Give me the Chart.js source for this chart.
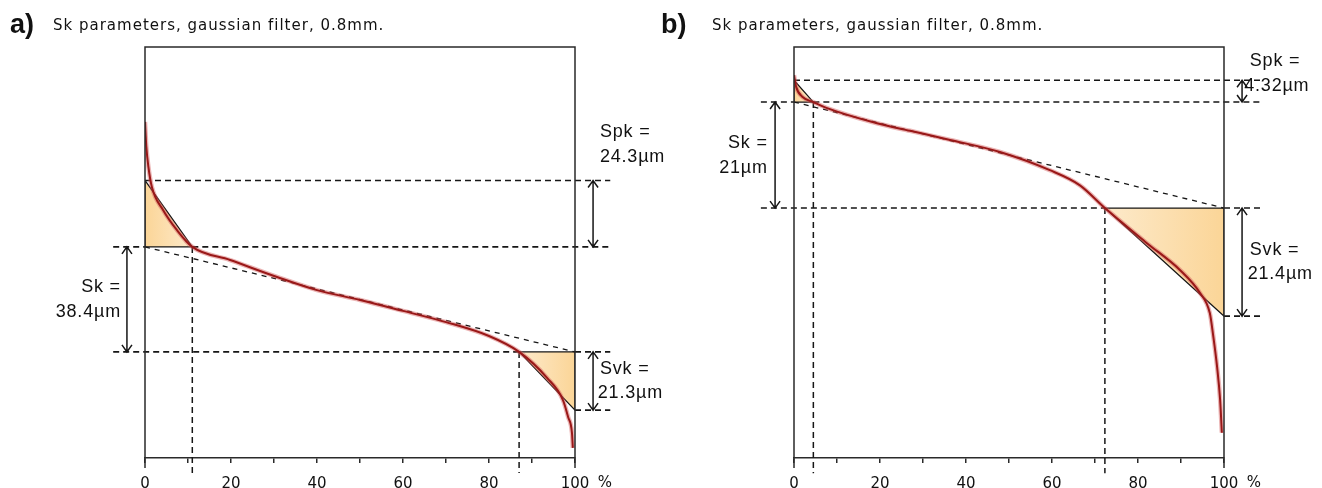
<!DOCTYPE html>
<html>
<head>
<meta charset="utf-8">
<script src="https://cdn.jsdelivr.net/npm/chart.js@4.4.1/dist/chart.umd.min.js"></script>
<style>
    html, body { margin: 0; padding: 0; background: #fff; }
    body { width: 1322px; height: 488px; position: relative; overflow: hidden; }
    canvas { position: absolute; top: 0; }
    #chartA { left: 0; }
    #chartB { left: 640px; }
</style>
</head>
<body>
<canvas id="chartA" width="680" height="488"></canvas>
<canvas id="chartB" width="682" height="488"></canvas>
<script>
// Curvas de Abbott-Firestone: taxa de material (%) x altura (µm)
const titleText = 'Sk parameters, gaussian filter, 0.8mm.';

// --- painel a) ---
const ratioA  = [0, 0.3, 0.8, 1.6, 4.2, 7.4, 11, 19.8, 30.7, 40, 50, 60, 70, 80, 87, 93.5, 97.2, 98.4, 99.3, 99.5];
const heightA = [122.9, 114, 106.4, 99.1, 90.7, 83.4, 77.2, 72.4, 66.2, 61.4, 57.8, 53.8, 49.7, 44.6, 38.8, 29.3, 21.2, 15.0, 9.1, 3.7];
const coreA   = [77.2, 38.8];   // limites do núcleo (Sk = 38.4 µm)
const peakA   = 24.3;           // Spk
const valleyA = 21.3;           // Svk
const mrA     = [11, 87];       // Mr1, Mr2
const yMaxA   = 150.3;
const textA   = ['Sk =', '38.4µm', 'Spk =', '24.3µm', 'Svk =', '21.3µm'];

// --- painel b) ---
const ratioB  = [0, 0.5, 2, 4.5, 7.7, 19.3, 27, 36.3, 47.9, 59.5, 66.5, 72.3, 82, 89.8, 94.4, 96.7, 97.4, 98.4, 99.1, 99.5];
const heightB = [75.8, 73.5, 71.5, 70.5, 69.3, 66.3, 64.8, 63.0, 60.6, 57.0, 54.0, 49.5, 42.6, 37.2, 32.7, 28.7, 24.8, 18.0, 11.5, 5.0];
const coreB   = [70.5, 49.5];   // Sk = 21 µm
const peakB   = 4.32;
const valleyB = 21.4;
const mrB     = [4.5, 72.3];
const yMaxB   = 81.4;
const textB   = ['Sk =', '21µm', 'Spk =', '4.32µm', 'Svk =', '21.4µm'];

const INK = '#161616';

const panels = [
    {
        id: 'chartA', tag: 'a)', tagX: 10, titleX: 53, padLeft: 145, padRight: 105,
        ratio: ratioA, height: heightA, core: coreA, peak: peakA, valley: valleyA, mr: mrA, yMax: yMaxA, text: textA,
        armX: [-4.2, 104.2], guideX: [-7.4, 108.2], below: -5.5,
        skTextX: -5.6, spkTextX: [105.8, 105.8], spkDy: [-48, -23], svkTextX: [105.8, 105.3], pctX: 105.3
    },
    {
        id: 'chartB', tag: 'b)', tagX: 21, titleX: 72, padLeft: 154, padRight: 98,
        ratio: ratioB, height: heightB, core: coreB, peak: peakB, valley: valleyB, mr: mrB, yMax: yMaxB, text: textB,
        armX: [-4.4, 104.2], guideX: [-7.7, 108.4], below: -3.0,
        skTextX: -6.1, spkTextX: [106, 104.7], spkDy: [-19, 6], svkTextX: [106, 105.5], pctX: 105.3
    }
];

// gradiente pêssego dos triângulos (mais forte junto ao eixo)
function peachFill(fromPct, toPct) {
    return (context) => {
        const chart = context.chart;
        const xs = chart.scales.x;
        if (!chart.chartArea || !xs) return '#fde2b4';
        const g = chart.ctx.createLinearGradient(xs.getPixelForValue(fromPct), 0, xs.getPixelForValue(toPct), 0);
        g.addColorStop(0, '#fbd597');
        g.addColorStop(1, '#fdeacb');
        return g;
    };
}

function dashed(points, width) {
    return {
        data: points, showLine: true, pointRadius: 0, borderColor: INK,
        borderWidth: width || 1.6, borderDash: [6, 4], fill: false, clip: false, order: 4
    };
}

function buildDatasets(p) {
    const [top, bot] = p.core;
    const peakTop = top + p.peak;
    const valleyBot = bot - p.valley;
    const [mr1, mr2] = p.mr;
    const [L, R] = p.guideX;
    const curve = p.ratio.map((x, i) => ({ x, y: p.height[i] }));

    return [
        // curva principal
        { data: curve, showLine: true, pointRadius: 0, borderColor: '#9a1818', borderWidth: 2, fill: false,
          cubicInterpolationMode: 'monotone', order: 1 },
        { data: curve, showLine: true, pointRadius: 0, borderColor: 'rgba(210,90,90,0.45)', borderWidth: 4.5, fill: false,
          cubicInterpolationMode: 'monotone', order: 2 },
        // linha equivalente (secante)
        { data: [{ x: 0, y: top }, { x: 100, y: bot }], showLine: true, pointRadius: 0, borderColor: INK,
          borderWidth: 1.3, borderDash: [5, 5], fill: false, clip: false, order: 3 },
        // linhas guia tracejadas
        dashed([{ x: 0, y: peakTop }, { x: R, y: peakTop }]),
        dashed([{ x: L, y: top }, { x: 0, y: top }]),
        dashed([{ x: mr1, y: top }, { x: R, y: top }]),
        dashed([{ x: L, y: bot }, { x: mr2, y: bot }]),
        dashed([{ x: 100, y: bot }, { x: R, y: bot }]),
        dashed([{ x: 100, y: valleyBot }, { x: R, y: valleyBot }]),
        dashed([{ x: mr1, y: top }, { x: mr1, y: p.below }], 1.5),
        dashed([{ x: mr2, y: bot }, { x: mr2, y: p.below }], 1.5),
        // triângulos Spk / Svk
        { data: [{ x: 0, y: peakTop }, { x: 0, y: top }, { x: mr1, y: top }, { x: 0, y: peakTop }],
          showLine: true, pointRadius: 0, borderColor: INK, borderWidth: 1.2, fill: 'shape',
          backgroundColor: peachFill(0, mr1), order: 5 },
        { data: [{ x: mr2, y: bot }, { x: 100, y: bot }, { x: 100, y: valleyBot }, { x: mr2, y: bot }],
          showLine: true, pointRadius: 0, borderColor: INK, borderWidth: 1.2, fill: 'shape',
          backgroundColor: peachFill(100, mr2), order: 5 }
    ];
}

function drawArrow(ctx, x, y1, y2) {
    ctx.beginPath();
    ctx.moveTo(x, y1);
    ctx.lineTo(x, y2);
    ctx.moveTo(x - 5, y1 + 7); ctx.lineTo(x, y1); ctx.lineTo(x + 5, y1 + 7);
    ctx.moveTo(x - 5, y2 - 7); ctx.lineTo(x, y2); ctx.lineTo(x + 5, y2 - 7);
    ctx.stroke();
}

function drawExtras(chart, p) {
    const ctx = chart.ctx;
    const area = chart.chartArea;
    const xs = chart.scales.x, ys = chart.scales.y;
    const px = v => xs.getPixelForValue(v);
    const py = v => ys.getPixelForValue(v);
    const [top, bot] = p.core;
    const peakTop = top + p.peak;
    const valleyBot = bot - p.valley;

    ctx.save();
    // moldura do gráfico
    ctx.strokeStyle = '#2a2a2a';
    ctx.lineWidth = 1.5;
    ctx.beginPath();
    ctx.moveTo(area.left, area.bottom + 10);
    ctx.lineTo(area.left, area.top);
    ctx.lineTo(area.right, area.top);
    ctx.lineTo(area.right, area.bottom + 10);
    ctx.stroke();

    // setas de cota
    ctx.strokeStyle = INK;
    ctx.lineWidth = 1.5;
    drawArrow(ctx, px(p.armX[0]), py(top), py(bot));
    drawArrow(ctx, px(p.armX[1]), py(peakTop), py(top));
    drawArrow(ctx, px(p.armX[1]), py(bot), py(valleyBot));

    // textos
    ctx.fillStyle = '#111';
    ctx.textBaseline = 'middle';
    ctx.font = '18px "Liberation Sans", Arial, sans-serif';
    ctx.letterSpacing = '0.8px';
    const skMid = py((top + bot) / 2);
    ctx.textAlign = 'right';
    ctx.fillText(p.text[0], px(p.skTextX), skMid - 12.5);
    ctx.fillText(p.text[1], px(p.skTextX), skMid + 12.5);
    ctx.textAlign = 'left';
    ctx.fillText(p.text[2], px(p.spkTextX[0]), py(peakTop) + p.spkDy[0]);
    ctx.fillText(p.text[3], px(p.spkTextX[1]), py(peakTop) + p.spkDy[1]);
    const svkMid = py((bot + valleyBot) / 2);
    ctx.fillText(p.text[4], px(p.svkTextX[0]), svkMid - 12);
    ctx.fillText(p.text[5], px(p.svkTextX[1]), svkMid + 12);

    // "%" ao lado do 100
    ctx.letterSpacing = '0px';
    ctx.font = '15px "DejaVu Sans", sans-serif';
    ctx.fillText('%', px(p.pctX), area.bottom + 25);

    // rótulo do painel e título
    ctx.textBaseline = 'alphabetic';
    ctx.font = 'bold 27px "Liberation Sans", Arial, sans-serif';
    ctx.fillText(p.tag, p.tagX, 33);
    ctx.font = '15px "DejaVu Sans", sans-serif';
    ctx.letterSpacing = '1px';
    ctx.fillText(titleText, p.titleX, 29.5);
    ctx.restore();
}

panels.forEach(p => {
    new Chart(document.getElementById(p.id), {
        type: 'scatter',
        data: { datasets: buildDatasets(p) },
        options: {
            responsive: false,
            animation: false,
            layout: { padding: { left: p.padLeft, right: p.padRight, top: 47, bottom: 0 } },
            plugins: { legend: { display: false }, tooltip: { enabled: false } },
            elements: { line: { tension: 0 } },
            scales: {
                x: {
                    type: 'linear', min: 0, max: 100,
                    afterFit(scale) { scale.height = 30; },
                    grid: { drawOnChartArea: false, drawTicks: true, tickLength: 5, color: '#2a2a2a', lineWidth: 1.5 },
                    border: { display: true, color: '#2a2a2a', width: 1.5 },
                    ticks: {
                        stepSize: 10, autoSkip: false, maxRotation: 0, padding: 12,
                        color: '#111', font: { family: 'DejaVu Sans', size: 15 },
                        callback: v => (v % 20 === 0 ? String(v) : '')
                    }
                },
                y: { type: 'linear', min: 0, max: p.yMax, display: false }
            }
        },
        plugins: [{ id: 'sketch', afterDatasetsDraw(chart) { drawExtras(chart, p); } }]
    });
});
</script>
</body>
</html>
